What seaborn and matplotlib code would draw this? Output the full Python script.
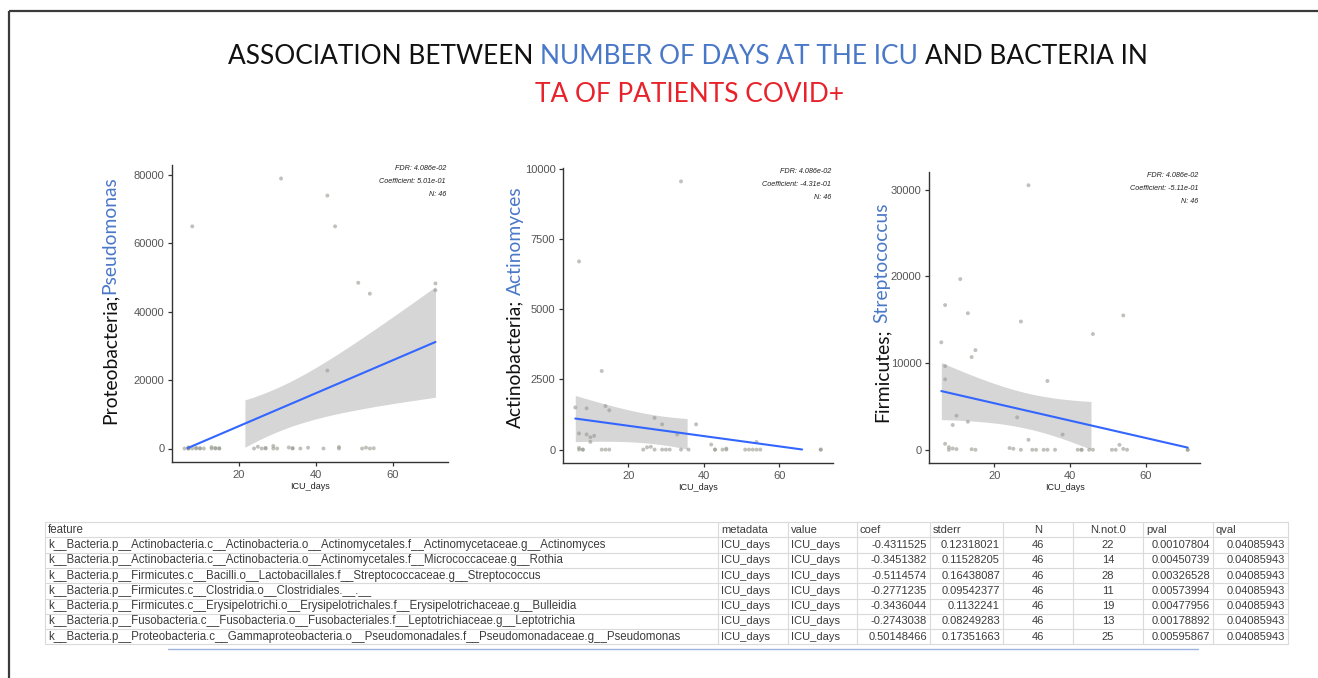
import numpy as np
import pandas as pd
import matplotlib
matplotlib.use("Agg")
import matplotlib.pyplot as plt
from matplotlib.ticker import FuncFormatter
import seaborn as sns

# ---------------------------------------------------------------- data
# ICU stay (days) of the 46 patients, shared by the three panels
icu_days = [6, 7, 7, 7, 7, 8, 8, 9, 9, 10, 10, 11, 13, 13, 14, 14, 15, 15,
            24, 25, 26, 27, 27, 29, 29, 30, 31, 33, 34, 34, 36, 38, 42, 43, 43,
            45, 46, 46, 51, 52, 53, 54, 54, 55, 71, 71]

# genus abundance in tracheal aspirates, same patient order as icu_days
pseudomonas = [0, 120, 0, 350, 0, 65000, 0, 210, 0, 0, 90, 0, 400, 0, 150, 0,
               0, 60, 0, 520, 0, 180, 0, 750, 0, 0, 79000, 300, 0, 110, 0, 240,
               0, 74000, 22800, 65000, 430, 0, 48500, 0, 260, 45300, 0, 80,
               48300, 46300]
actinomyces = [1500, 6700, 575, 60, 0, 0, 0, 1470, 540, 275, 440, 490, 2800, 0,
               1550, 0, 1400, 0, 0, 80, 100, 1130, 0, 900, 0, 0, 0, 540, 9550,
               0, 0, 900, 180, 0, 0, 0, 40, 0, 0, 0, 0, 275, 0, 0, 0, 0]
streptococcus = [12400, 16700, 9650, 8130, 690, 300, 0, 2860, 150, 3930, 80,
                 19700, 15760, 3240, 10700, 60, 11500, 0, 200, 120, 3740, 14800,
                 0, 30530, 1150, 0, 0, 0, 7940, 0, 0, 1760, 0, 0, 0, 0, 13360, 0,
                 0, 0, 570, 15500, 100, 0, 0, 0]

# association table
features = [
    "k__Bacteria.p__Actinobacteria.c__Actinobacteria.o__Actinomycetales.f__Actinomycetaceae.g__Actinomyces",
    "k__Bacteria.p__Actinobacteria.c__Actinobacteria.o__Actinomycetales.f__Micrococcaceae.g__Rothia",
    "k__Bacteria.p__Firmicutes.c__Bacilli.o__Lactobacillales.f__Streptococcaceae.g__Streptococcus",
    "k__Bacteria.p__Firmicutes.c__Clostridia.o__Clostridiales.__.__",
    "k__Bacteria.p__Firmicutes.c__Erysipelotrichi.o__Erysipelotrichales.f__Erysipelotrichaceae.g__Bulleidia",
    "k__Bacteria.p__Fusobacteria.c__Fusobacteria.o__Fusobacteriales.f__Leptotrichiaceae.g__Leptotrichia",
    "k__Bacteria.p__Proteobacteria.c__Gammaproteobacteria.o__Pseudomonadales.f__Pseudomonadaceae.g__Pseudomonas",
]
metadata = ["ICU_days"] * 7
value = ["ICU_days"] * 7
coef = [-0.4311525, -0.3451382, -0.5114574, -0.2771235, -0.3436044, -0.2743038, 0.50148466]
stderr = [0.12318021, 0.11528205, 0.16438087, 0.09542377, 0.1132241, 0.08249283, 0.17351663]
n_samples = [46, 46, 46, 46, 46, 46, 46]
n_not0 = [22, 14, 28, 11, 19, 13, 25]
pval = [0.00107804, 0.00450739, 0.00326528, 0.00573994, 0.00477956, 0.00178892, 0.00595867]
qval = [0.04085943, 0.04085943, 0.04085943, 0.04085943, 0.04085943, 0.04085943, 0.04085943]

BLUE = "#4a78c8"
RED = "#e8222a"
title_line1 = [("ASSOCIATION BETWEEN", "#111111"),
               (" NUMBER OF DAYS AT THE ICU", BLUE),
               (" AND BACTERIA IN", "#111111")]
title_line2 = [("TA OF PATIENTS COVID+", RED)]

T975_44DF = 2.0154  # Student t 0.975 quantile, n - 2 = 44 degrees of freedom


def linear_fit(x, y, n_grid=80):
    """OLS line with 95% confidence band evaluated on an even grid."""
    x = np.asarray(x, float)
    y = np.asarray(y, float)
    n = len(x)
    xm, ym = x.mean(), y.mean()
    sxx = ((x - xm) ** 2).sum()
    slope = ((x - xm) * (y - ym)).sum() / sxx
    icpt = ym - slope * xm
    s = np.sqrt(((y - icpt - slope * x) ** 2).sum() / (n - 2))
    grid = np.linspace(x.min(), x.max(), n_grid)
    fit = icpt + slope * grid
    se = s * np.sqrt(1.0 / n + (grid - xm) ** 2 / sxx)
    return grid, fit, fit - T975_44DF * se, fit + T975_44DF * se


# ---------------------------------------------------------------- figure
sns.set_theme(style="ticks")
plt.rcParams["font.family"] = ["Liberation Sans", "DejaVu Sans"]

W, H = 1318, 678
fig = plt.figure(figsize=(W / 100, H / 100), dpi=100)
fig.patch.set_facecolor("white")
base = fig.add_axes([0, 0, 1, 1], zorder=0)
base.set_xlim(0, W)
base.set_ylim(H, 0)
base.axis("off")
renderer = fig.canvas.get_renderer()


def text_width(s, **kw):
    t = base.text(0, 0, s, **kw)
    w = t.get_window_extent(renderer).width
    t.remove()
    return w


def run_width(pieces, **kw):
    space = text_width("n n", **kw) - text_width("nn", **kw)
    total, offs = 0.0, []
    for s, _ in pieces:
        if s.startswith(" "):
            total += space
        offs.append(total)
        total += text_width(s.strip(), **kw)
    return total, offs


def colored_run(x, y, pieces, rotation=0, **kw):
    """Centered run of differently coloured text pieces."""
    total, offs = run_width(pieces, **kw)
    start = -total / 2
    for (s, c), o in zip(pieces, offs):
        if rotation == 0:
            base.text(x + start + o, y, s.strip(), color=c, ha="left",
                      va="baseline", **kw)
        else:
            base.text(x, y - (start + o), s.strip(), color=c, rotation=90,
                      rotation_mode="anchor", ha="left", va="center", **kw)


# outer frame
base.plot([9, 9], [11, H], color="#3a3a3a", lw=1.6, solid_capstyle="butt")
base.plot([9, W], [11, 11], color="#3a3a3a", lw=1.6, solid_capstyle="butt")

# title
tkw = dict(family=["Lato", "DejaVu Sans"])
w20, _ = run_width(title_line1, fontsize=20, **tkw)
title_fs = 20 * 920 / w20
colored_run(688, 64, title_line1, fontsize=title_fs, **tkw)
colored_run(690, 102, title_line2, fontsize=title_fs, **tkw)

# ---------------------------------------------------------------- panels
panels = [
    dict(y=pseudomonas, row=6, label=[("Proteobacteria;", "#111111"), ("Pseudomonas", BLUE)],
         box=(172, 165, 448, 462), yticks=[0, 20000, 40000, 60000, 80000], lab=(110, 300)),
    dict(y=actinomyces, row=0, label=[("Actinobacteria;", "#111111"), (" Actinomyces", BLUE)],
         box=(563, 168, 833, 463), yticks=[0, 2500, 5000, 7500, 10000], lab=(515, 307)),
    dict(y=streptococcus, row=2, label=[("Firmicutes;", "#111111"), (" Streptococcus", BLUE)],
         box=(929, 172, 1200, 463), yticks=[0, 10000, 20000, 30000], lab=(882, 312)),
]

lkw = dict(family=["Lato", "DejaVu Sans"])
wl, _ = run_width(panels[0]["label"], fontsize=14, **lkw)
label_fs = 14 * 250 / wl

for p in panels:
    l, t, r, b = p["box"]
    ax = fig.add_axes([l / W, 1 - b / H, (r - l) / W, (b - t) / H], zorder=2)
    ax.patch.set_alpha(0)
    df = pd.DataFrame({"ICU_days": icu_days, "abundance": p["y"]})

    sns.scatterplot(data=df, x="ICU_days", y="abundance", ax=ax, s=8,
                    color="#959a8e", alpha=0.6, edgecolor="none", zorder=1)

    grid, fit, lo, hi = linear_fit(df["ICU_days"], df["abundance"])
    ymin, ymax = df["abundance"].min(), df["abundance"].max()
    band = (lo >= ymin) & (hi <= ymax)
    ax.fill_between(grid, lo, hi, where=band, color="#999999", alpha=0.4,
                    lw=0, zorder=2)
    keep = (fit >= ymin) & (fit <= ymax)
    ax.plot(grid[keep], fit[keep], color="#3366FF", lw=1.5, zorder=3)

    xmin, xmax = df["ICU_days"].min(), df["ICU_days"].max()
    xr, yr = xmax - xmin, ymax - ymin
    ax.set_xlim(xmin - 0.05 * xr, xmax + 0.05 * xr)
    ax.set_ylim(ymin - 0.05 * yr, ymax + 0.05 * yr)
    ax.set_xticks([20, 40, 60])
    ax.set_yticks(p["yticks"])
    ax.yaxis.set_major_formatter(FuncFormatter(lambda v, _: f"{v:.0f}"))
    ax.tick_params(length=3, width=0.9, color="#333333", labelcolor="#555555",
                   labelsize=8, pad=2.5)
    ax.set_xlabel("ICU_days", fontsize=6.5, color="#222222", labelpad=2)
    ax.set_ylabel("")
    sns.despine(ax=ax)
    for sp in ("left", "bottom"):
        ax.spines[sp].set_color("#333333")
        ax.spines[sp].set_linewidth(1.0)

    i = p["row"]
    notes = [f"FDR: {qval[i]:.3e}", f"Coefficient: {coef[i]:.2e}", f"N: {n_samples[i]}"]
    for k, s in enumerate(notes):
        ax.annotate(s, xy=(1, 1), xycoords="axes fraction",
                    xytext=(-1.5, -k * 9.2), textcoords="offset points",
                    ha="right", va="top", fontsize=5.2, style="italic",
                    color="#222222")

    colored_run(p["lab"][0], p["lab"][1], p["label"], rotation=90,
                fontsize=label_fs, **lkw)

# ---------------------------------------------------------------- table
tbl_top, row_h = 522, 15.3
edges = [45, 718, 788, 857, 930, 1003, 1073, 1143, 1213, 1288]
n_rows = len(features) + 1
tbl_bottom = tbl_top + n_rows * row_h
for k in range(n_rows + 1):
    yy = tbl_top + k * row_h
    base.plot([edges[0], edges[-1]], [yy, yy], color="#dadada", lw=0.8)
for e in edges:
    base.plot([e, e], [tbl_top, tbl_bottom], color="#dadada", lw=0.8)

fkw = dict(family=["Liberation Sans", "DejaVu Sans"], color="#3c3c3c")
feat_fs = 8 * 565 / text_width(features[0], fontsize=8, **fkw)
num_fs = 8.0

headers = ["feature", "metadata", "value", "coef", "stderr", "N", "N.not.0", "pval", "qval"]
columns = [features, metadata, value,
           [str(v) for v in coef], [str(v) for v in stderr],
           [str(v) for v in n_samples], [str(v) for v in n_not0],
           [str(v) for v in pval], [str(v) for v in qval]]
align = ["left", "left", "left", "right", "right", "center", "center", "right", "right"]

for c, (hdr, vals, al) in enumerate(zip(headers, columns, align)):
    x0, x1 = edges[c], edges[c + 1]
    hx, hha = (x0 + 3, "left") if al != "center" else ((x0 + x1) / 2, "center")
    base.text(hx, tbl_top + row_h / 2, hdr, ha=hha, va="center",
              fontsize=feat_fs if c == 0 else num_fs, **fkw)
    for r, v in enumerate(vals):
        yy = tbl_top + (r + 1.5) * row_h
        if al == "left":
            vx = x0 + 3
        elif al == "right":
            vx = x1 - 3
        else:
            vx = (x0 + x1) / 2
        base.text(vx, yy, v, ha=al, va="center",
                  fontsize=feat_fs if c == 0 else num_fs, **fkw)

base.plot([168, 1198], [649, 649], color="#9db4e0", lw=1.0)

fig.savefig("out.png", dpi=100)
